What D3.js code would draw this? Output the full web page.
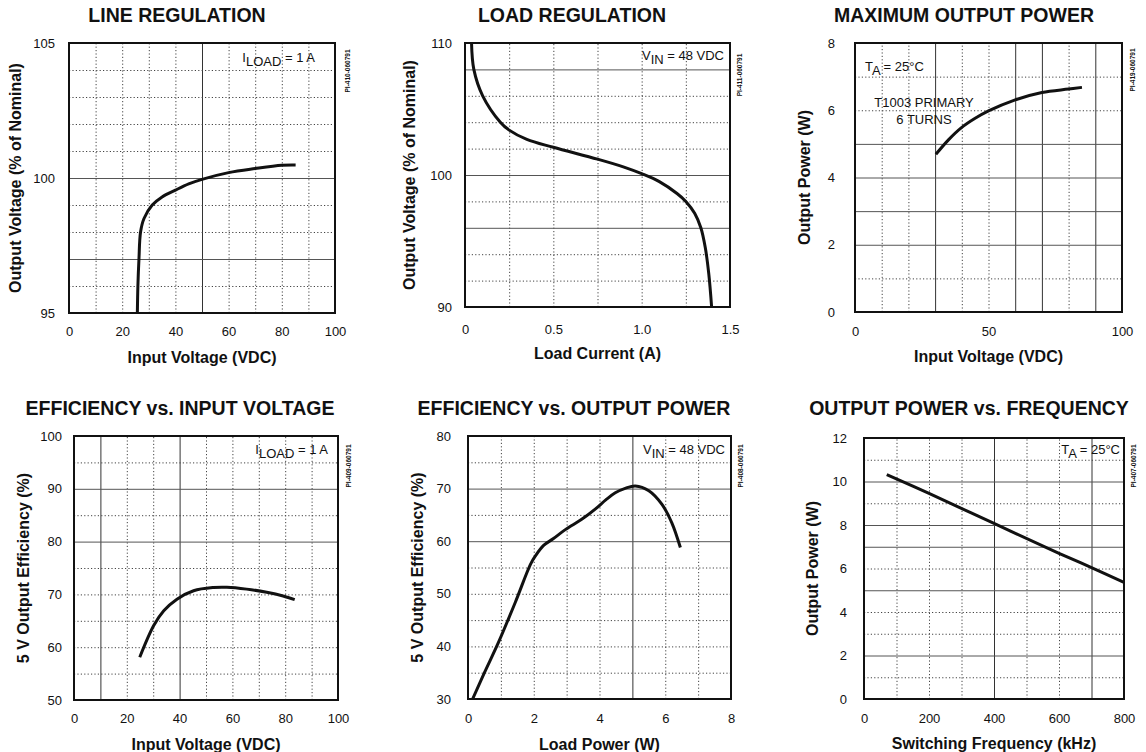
<!DOCTYPE html>
<html><head><meta charset="utf-8">
<script src="https://cdn.jsdelivr.net/npm/d3@7"></script>
<style>
body{margin:0;background:#fff}
svg{display:block}
text{font-family:"Liberation Sans",Arial,Helvetica,sans-serif;fill:#111}
</style>
</head><body>
<svg id="chart" width="1146" height="752"></svg>
<script>
// ---------- DATA ----------
// Line regulation
const lineRegVin  = [25.7, 25.9, 26.3, 26.9, 28.2, 31.3, 35, 40, 45, 50, 60, 70, 80, 85.2];
const lineRegVout = [95, 96, 97, 98, 98.5, 99, 99.3, 99.55, 99.78, 99.95, 100.2, 100.35, 100.47, 100.48];
const lineRegXTicks = [0, 20, 40, 60, 80, 100];
const lineRegYTicks = [95, 100, 105];

// Load regulation
const loadRegI    = [0.037, 0.05, 0.1, 0.2, 0.25, 0.35, 0.5, 0.75, 0.9, 1.0, 1.1, 1.2, 1.25, 1.3, 1.335, 1.36, 1.38, 1.396];
const loadRegVout = [110, 108, 106, 104, 103.4, 102.7, 102.1, 101.2, 100.6, 100.1, 99.5, 98.6, 98.0, 97.1, 96.0, 94.5, 92.5, 90];
const loadRegXTicks = [0, 0.5, 1.0, 1.5];
const loadRegYTicks = [90, 100, 110];

// Maximum output power
const maxPowVin = [30.3, 35, 40, 45, 50, 60, 70, 80, 85];
const maxPowW   = [4.69, 5.12, 5.49, 5.76, 5.98, 6.31, 6.53, 6.63, 6.68];
const maxPowXTicks = [0, 50, 100];
const maxPowYTicks = [0, 2, 4, 6, 8];

// Efficiency vs input voltage
const effVinV   = [24.9, 30.2, 34.0, 39.0, 45.3, 52.8, 57.9, 65.4, 73.0, 79.2, 83.6];
const effVinEff = [58.1, 64.1, 66.9, 69.1, 70.7, 71.3, 71.35, 71.0, 70.4, 69.7, 69.0];
const effVinXTicks = [0, 20, 40, 60, 80, 100];
const effVinYTicks = [50, 60, 70, 80, 90, 100];

// Efficiency vs output power
const effPowW   = [0.14, 0.5, 0.93, 1.44, 1.9, 2.05, 2.3, 2.6, 2.96, 3.47, 3.87, 4.2, 4.48, 4.8, 5.09, 5.5, 5.9, 6.2, 6.46];
const effPowEff = [30, 35, 40.8, 48.4, 55.6, 57.2, 59.2, 60.5, 62.2, 64.2, 66.1, 67.9, 69.2, 70.1, 70.5, 69.6, 67.0, 63.5, 58.8];
const effPowXTicks = [0, 2, 4, 6, 8];
const effPowYTicks = [30, 40, 50, 60, 70, 80];

// Output power vs frequency
const freqKHz = [70, 200, 400, 600, 700, 800];
const freqW   = [10.32, 9.45, 8.07, 6.7, 6.04, 5.36];
const freqXTicks = [0, 200, 400, 600, 800];
const freqYTicks = [0, 2, 4, 6, 8, 10, 12];

// ---------- PANELS ----------
const panels = [
  { title: "LINE REGULATION", tx: 177, ty: 15,
    box: [69, 43, 335, 313], xDom: [0, 100], yDom: [95, 105],
    xGridStep: 10, yGridStep: 1, xSolid: [50], ySolid: [100, 97],
    xTicks: lineRegXTicks, yTicks: lineRegYTicks, xFmt: d => d, yPad: 14, xPad: 19,
    xLabel: "Input Voltage (VDC)", xly: 357, yLabel: "Output Voltage (% of Nominal)", ylx: 15,
    xs: lineRegVin, ys: lineRegVout,
    note: { main: "I", sub: "LOAD", rest: " = 1 A", x: 315, y: 62, anchor: "end" },
    code: "PI-410-060791", cx: 347, cy: 71 },
  { title: "LOAD REGULATION", tx: 572, ty: 15,
    box: [465, 43, 730, 307], xDom: [0, 1.5], yDom: [90, 110],
    xGridStep: 0.25, yGridStep: 2, xSolid: [], ySolid: [108, 100, 96],
    xTicks: loadRegXTicks, yTicks: loadRegYTicks, xFmt: d => d === 0 ? "0" : d.toFixed(1), yPad: 13, xPad: 23,
    xLabel: "Load Current (A)", xly: 353, yLabel: "Output Voltage (% of Nominal)", ylx: 409,
    xs: loadRegI, ys: loadRegVout,
    note: { main: "V", sub: "IN", rest: " = 48 VDC", x: 724, y: 60, anchor: "end" },
    code: "PI-411-060791", cx: 739, cy: 75 },
  { title: "MAXIMUM OUTPUT POWER", tx: 964, ty: 15,
    box: [855, 43, 1122, 312], xDom: [0, 100], yDom: [0, 8],
    xGridStep: 10, yGridStep: 1, xSolid: [30, 60, 70, 90], ySolid: [5, 4, 3, 2],
    xTicks: maxPowXTicks, yTicks: maxPowYTicks, xFmt: d => d, yPad: 20, xPad: 20,
    xLabel: "Input Voltage (VDC)", xly: 356, yLabel: "Output Power (W)", ylx: 804,
    xs: maxPowVin, ys: maxPowW,
    note: { main: "T", sub: "A", rest: " = 25°C", x: 865, y: 71, anchor: "start" },
    extra: [ { t: "T1003 PRIMARY", x: 924, y: 107 }, { t: "6 TURNS", x: 924, y: 124 } ],
    code: "PI-419-060791", cx: 1132, cy: 70 },
  { title: "EFFICIENCY vs. INPUT VOLTAGE", tx: 180, ty: 408,
    box: [74, 436, 338, 700], xDom: [0, 100], yDom: [50, 100],
    xGridStep: 10, yGridStep: 5, xSolid: [10, 40], ySolid: [90, 80],
    xTicks: effVinXTicks, yTicks: effVinYTicks, xFmt: d => d, yPad: 12, xPad: 19,
    xLabel: "Input Voltage (VDC)", xly: 744, yLabel: "5 V Output Efficiency (%)", ylx: 23,
    xs: effVinV, ys: effVinEff,
    note: { main: "I", sub: "LOAD", rest: " = 1 A", x: 328, y: 454, anchor: "end" },
    code: "PI-409-060791", cx: 348, cy: 466 },
  { title: "EFFICIENCY vs. OUTPUT POWER", tx: 574, ty: 408,
    box: [468, 436, 731, 699], xDom: [0, 8], yDom: [30, 80],
    xGridStep: 1, yGridStep: 5, xSolid: [5], ySolid: [70, 60],
    xTicks: effPowXTicks, yTicks: effPowYTicks, xFmt: d => d, yPad: 17, xPad: 20,
    xLabel: "Load Power (W)", xly: 744, yLabel: "5 V Output Efficiency (%)", ylx: 417,
    xs: effPowW, ys: effPowEff,
    note: { main: "V", sub: "IN", rest: " = 48 VDC", x: 725, y: 454, anchor: "end" },
    code: "PI-408-060791", cx: 740, cy: 466 },
  { title: "OUTPUT POWER vs. FREQUENCY", tx: 969, ty: 408,
    box: [864, 438, 1124, 699], xDom: [0, 800], yDom: [0, 12],
    xGridStep: 100, yGridStep: 1, xSolid: [400, 700], ySolid: [10, 8, 7, 5, 2],
    xTicks: freqXTicks, yTicks: freqYTicks, xFmt: d => d, yPad: 17, xPad: 20,
    xLabel: "Switching Frequency (kHz)", xly: 743, yLabel: "Output Power (W)", ylx: 812,
    xs: freqKHz, ys: freqW,
    note: { main: "T", sub: "A", rest: " = 25°C", x: 1120, y: 454, anchor: "end" },
    code: "PI-407-060791", cx: 1133, cy: 466 }
];

const svg = d3.select("#chart");

panels.forEach((p, i) => {
  const [x0, y0, x1, y1] = p.box;
  const W = x1 - x0, H = y1 - y0;
  const x = d3.scaleLinear().domain(p.xDom).range([x0, x1]);
  const y = d3.scaleLinear().domain(p.yDom).range([y1, y0]);
  const g = svg.append("g");

  // grid via axes
  const xg = d3.range(p.xDom[0] + p.xGridStep, p.xDom[1] - p.xGridStep / 2, p.xGridStep);
  const yg = d3.range(p.yDom[0] + p.yGridStep, p.yDom[1] - p.yGridStep / 2, p.yGridStep);
  const isIn = (arr, v) => arr.some(a => Math.abs(a - v) < 1e-9);

  const gx = g.append("g").attr("transform", `translate(0,${y1})`)
    .call(d3.axisBottom(x).tickValues(xg).tickSize(-H).tickFormat(""));
  gx.select(".domain").remove();
  gx.selectAll("line")
    .attr("stroke", d => isIn(p.xSolid, d) ? "#333" : "#444")
    .attr("stroke-width", 1)
    .attr("stroke-dasharray", d => isIn(p.xSolid, d) ? null : "1.2,2.2");

  const gy = g.append("g").attr("transform", `translate(${x0},0)`)
    .call(d3.axisLeft(y).tickValues(yg).tickSize(-W).tickFormat(""));
  gy.select(".domain").remove();
  gy.selectAll("line")
    .attr("stroke", d => isIn(p.ySolid, d) ? "#555" : "#444")
    .attr("stroke-width", 1)
    .attr("stroke-dasharray", d => isIn(p.ySolid, d) ? null : "1.2,2.2");

  // tick labels via axes
  const ax = g.append("g").attr("transform", `translate(0,${y1})`)
    .call(d3.axisBottom(x).tickValues(p.xTicks).tickSize(0).tickPadding(p.xPad - 5).tickFormat(p.xFmt));
  ax.select(".domain").remove();
  ax.selectAll("text").attr("font-size", 13).attr("fill", "#111")
    .attr("font-family", '"Liberation Sans",Arial,sans-serif');

  const ay = g.append("g").attr("transform", `translate(${x0},0)`)
    .call(d3.axisLeft(y).tickValues(p.yTicks).tickSize(0).tickPadding(p.yPad));
  ay.select(".domain").remove();
  ay.selectAll("text").attr("font-size", 13).attr("fill", "#111")
    .attr("font-family", '"Liberation Sans",Arial,sans-serif');

  // curve
  const clipId = "clip" + i;
  svg.append("clipPath").attr("id", clipId).append("rect")
    .attr("x", x0).attr("y", y0).attr("width", W).attr("height", H);
  const pts = p.xs.map((v, k) => [v, p.ys[k]]);
  g.append("path").datum(pts)
    .attr("clip-path", `url(#${clipId})`)
    .attr("fill", "none").attr("stroke", "#111").attr("stroke-width", 3)
    .attr("d", d3.line().x(d => x(d[0])).y(d => y(d[1])).curve(d3.curveCatmullRom.alpha(0.5)));

  // frame
  g.append("rect").attr("x", x0).attr("y", y0).attr("width", W).attr("height", H)
    .attr("fill", "none").attr("stroke", "#111").attr("stroke-width", 2);

  // title
  g.append("text").attr("x", p.tx).attr("y", p.ty + 7).attr("text-anchor", "middle")
    .attr("font-size", 19.5).attr("font-weight", "bold").text(p.title);

  // axis titles
  g.append("text").attr("x", (x0 + x1) / 2).attr("y", p.xly + 6).attr("text-anchor", "middle")
    .attr("font-size", 16).attr("font-weight", "bold").text(p.xLabel);
  g.append("text").attr("transform", `translate(${p.ylx + 6},${(y0 + y1) / 2}) rotate(-90)`)
    .attr("text-anchor", "middle").attr("font-size", 16).attr("font-weight", "bold").text(p.yLabel);

  // annotation
  const n = g.append("text").attr("x", p.note.x).attr("y", p.note.y)
    .attr("text-anchor", p.note.anchor).attr("font-size", 13);
  n.append("tspan").text(p.note.main);
  n.append("tspan").attr("dy", 4).text(p.note.sub);
  n.append("tspan").attr("dy", -4).text(p.note.rest);
  (p.extra || []).forEach(e => {
    g.append("text").attr("x", e.x).attr("y", e.y).attr("text-anchor", "middle")
      .attr("font-size", 13).text(e.t);
  });

  // figure code
  g.append("text").attr("transform", `translate(${p.cx + 2.5},${p.cy}) rotate(-90)`)
    .attr("text-anchor", "middle").attr("font-size", 6.5).attr("font-weight", "bold").text(p.code);
});
</script>
</body></html>
